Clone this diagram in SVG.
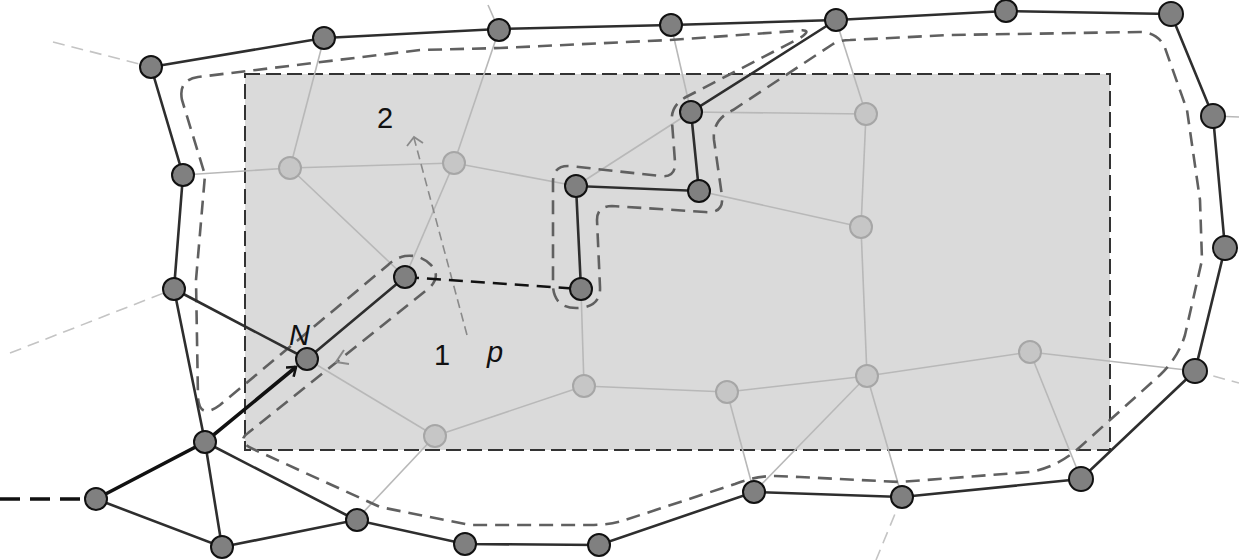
<svg xmlns="http://www.w3.org/2000/svg" width="1239" height="560" viewBox="0 0 1239 560">
<defs>
<style>
.lt{stroke:#b8b8b8;stroke-width:1.6;fill:none}
.ltd{stroke:#c4c4c4;stroke-width:1.6;fill:none;stroke-dasharray:12 7}
.dk{stroke:#2e2e2e;stroke-width:2.6;fill:none;stroke-linecap:round}
.thick{stroke:#111;stroke-width:3.6;fill:none}
.dn{fill:#808080;stroke:#111;stroke-width:2}
.ln{fill:#c6c6c6;stroke:#a6a6a6;stroke-width:2}
.txt{font-family:"Liberation Sans",Arial,sans-serif;font-size:29px;fill:#111}
</style>
<marker id="chev" viewBox="-10 -7 12 14" markerWidth="12" markerHeight="14" refX="0" refY="0" orient="auto" markerUnits="userSpaceOnUse">
<path d="M -8 -6 L 0 0 L -8 6" fill="none" stroke="#111" stroke-width="2.6"/>
</marker>
</defs>
<rect x="0" y="0" width="1239" height="560" fill="#fff"/>
<rect id="region" x="245" y="74" width="865" height="376" fill="#dadada" stroke="#333" stroke-width="2" stroke-dasharray="15 6"/>

<g id="connectors">
<g class="lt">
<line x1="183" y1="175" x2="290" y2="168"/>
<line x1="324" y1="38" x2="290" y2="168"/>
<line x1="290" y1="168" x2="454" y2="163"/>
<line x1="290" y1="168" x2="405" y2="277"/>
<line x1="499" y1="30" x2="454" y2="163"/>
<line x1="499" y1="30" x2="488" y2="5"/>
<line x1="454" y1="163" x2="405" y2="277"/>
<line x1="454" y1="163" x2="576" y2="186"/>
<line x1="576" y1="186" x2="691" y2="112"/>
<line x1="671" y1="25" x2="691" y2="112"/>
<line x1="691" y1="112" x2="866" y2="114"/>
<line x1="836" y1="20" x2="866" y2="114"/>
<line x1="866" y1="114" x2="861" y2="227"/>
<line x1="699" y1="191" x2="861" y2="227"/>
<line x1="861" y1="227" x2="867" y2="376"/>
<line x1="581" y1="289" x2="584" y2="386"/>
<line x1="584" y1="386" x2="727" y2="392"/>
<line x1="584" y1="386" x2="435" y2="436"/>
<line x1="727" y1="392" x2="867" y2="376"/>
<line x1="727" y1="392" x2="754" y2="492"/>
<line x1="867" y1="376" x2="1030" y2="352"/>
<line x1="867" y1="376" x2="902" y2="497"/>
<line x1="867" y1="376" x2="754" y2="492"/>
<line x1="1030" y1="352" x2="1081" y2="479"/>
<line x1="1030" y1="352" x2="1195" y2="371"/>
<line x1="307" y1="359" x2="435" y2="436"/>
<line x1="435" y1="436" x2="356" y2="520"/>
<line x1="1213" y1="116" x2="1239" y2="117"/>
</g>
<g class="ltd">
<line x1="53" y1="42" x2="151" y2="67"/>
<line x1="10" y1="353" x2="174" y2="289"/>
<line x1="1195" y1="371" x2="1239" y2="383"/>
<line x1="902" y1="497" x2="876" y2="560"/>
</g>

<line x1="467" y1="335" x2="414" y2="138" stroke="#8a8a8a" stroke-width="1.6" stroke-dasharray="9 5" fill="none"/>
<path d="M 407 146 L 414 137 L 423 143" fill="none" stroke="#8a8a8a" stroke-width="1.8"/>

<path d="M 182 100 Q 178 80 198 77 L 420 50 L 500 48 L 670 40 L 795 31 Q 815 28 800 38 L 688 96 Q 670 105 672 122 L 675 162 Q 676 178 660 176 L 570 166 Q 553 165 553 182 L 553 287 Q 555 309 578 308 Q 601 307 600 287 L 597 220 Q 597 206 612 206 L 705 212 Q 724 214 722 196 L 714 140 Q 712 120 733 110 L 833 44 Q 840 40 850 40 L 950 35 L 1140 32 Q 1158 32 1165 48 L 1187 110 L 1200 200 L 1202 260 L 1185 335 Q 1178 358 1160 375 L 1080 447 Q 1058 467 1030 472 L 900 482 L 800 477 L 775 476 Q 755 476 735 484 L 625 520 Q 610 525 590 525 L 470 525 L 380 507 L 253 449 Q 236 441 248 433 L 428 289 Q 442 277 431 265 Q 420 254 405 256 Q 395 258 388 265 L 220 405 Q 200 420 198 398 L 196 280 L 205 175 Z" fill="none" stroke="#606060" stroke-width="2.6" stroke-dasharray="14 8"/>
<path d="M 344 350 L 336 362 L 349 364" fill="none" stroke="#8a8a8a" stroke-width="2"/>

<polyline class="dk" points="151,67 324,38 499,29 671,25 836,20 1006,11 1171,14 1213,116 1225,248 1195,371 1081,479 902,497 754,492 599,545 465,544 356,520 222,547 96,499"/>
<polyline class="dk" points="205,442 174,289 183,175 151,67"/>
<line class="dk" x1="205" y1="442" x2="222" y2="547"/>
<line class="dk" x1="205" y1="442" x2="356" y2="520"/>
<line class="dk" x1="174" y1="289" x2="307" y2="359"/>
<line class="dk" x1="307" y1="359" x2="405" y2="277"/>
<polyline class="dk" points="836,20 691,112 699,191 576,186 581,289"/>
<line x1="405" y1="277" x2="581" y2="289" stroke="#111" stroke-width="2.6" stroke-dasharray="14 8"/>
<line x1="0" y1="499" x2="96" y2="499" stroke="#111" stroke-width="3.6" stroke-dasharray="20 10"/>
<polyline class="thick" points="96,499 205,442 296,367" marker-end="url(#chev)"/>
</g>

<g id="n-A1"><circle class="dn" cx="151" cy="67" r="11"/></g>
<g id="n-A2"><circle class="dn" cx="324" cy="38" r="11"/></g>
<g id="n-A3"><circle class="dn" cx="499" cy="30" r="11"/></g>
<g id="n-A4"><circle class="dn" cx="671" cy="25" r="11"/></g>
<g id="n-A5"><circle class="dn" cx="836" cy="20" r="11"/></g>
<g id="n-A6"><circle class="dn" cx="1006" cy="11" r="11"/></g>
<g id="n-A7"><circle class="dn" cx="1171" cy="14" r="12"/></g>
<g id="n-A8"><circle class="dn" cx="1213" cy="116" r="12"/></g>
<g id="n-A9"><circle class="dn" cx="1225" cy="248" r="12"/></g>
<g id="n-A10"><circle class="dn" cx="1195" cy="371" r="12"/></g>
<g id="n-A11"><circle class="dn" cx="1081" cy="479" r="12"/></g>
<g id="n-A12"><circle class="dn" cx="902" cy="497" r="11"/></g>
<g id="n-A13"><circle class="dn" cx="754" cy="492" r="11"/></g>
<g id="n-A14"><circle class="dn" cx="599" cy="545" r="11"/></g>
<g id="n-A15"><circle class="dn" cx="465" cy="544" r="11"/></g>
<g id="n-A16"><circle class="dn" cx="357" cy="520" r="11"/></g>
<g id="n-A17"><circle class="dn" cx="222" cy="547" r="11"/></g>
<g id="n-A18"><circle class="dn" cx="96" cy="499" r="11"/></g>
<g id="n-A19"><circle class="dn" cx="205" cy="442" r="11"/></g>
<g id="n-A20"><circle class="dn" cx="174" cy="289" r="11"/></g>
<g id="n-A21"><circle class="dn" cx="183" cy="175" r="11"/></g>
<g id="n-N"><circle class="dn" cx="307" cy="359" r="11"/></g>
<g id="n-B1"><circle class="dn" cx="405" cy="277" r="11"/></g>
<g id="n-C1"><circle class="dn" cx="581" cy="289" r="11"/></g>
<g id="n-C2"><circle class="dn" cx="576" cy="186" r="11"/></g>
<g id="n-C3"><circle class="dn" cx="699" cy="191" r="11"/></g>
<g id="n-C4"><circle class="dn" cx="691" cy="112" r="11"/></g>
<g id="n-L1"><circle class="ln" cx="290" cy="168" r="11"/></g>
<g id="n-L2"><circle class="ln" cx="454" cy="163" r="11"/></g>
<g id="n-L3"><circle class="ln" cx="866" cy="114" r="11"/></g>
<g id="n-L4"><circle class="ln" cx="861" cy="227" r="11"/></g>
<g id="n-L5"><circle class="ln" cx="584" cy="386" r="11"/></g>
<g id="n-L6"><circle class="ln" cx="727" cy="392" r="11"/></g>
<g id="n-L7"><circle class="ln" cx="867" cy="376" r="11"/></g>
<g id="n-L8"><circle class="ln" cx="1030" cy="352" r="11"/></g>
<g id="n-L9"><circle class="ln" cx="435" cy="436" r="11"/></g>

<g id="labels">
<text class="txt" x="289" y="345" font-style="italic">N</text>
<text class="txt" x="377" y="128">2</text>
<text class="txt" x="434" y="365">1</text>
<text class="txt" x="487" y="362" font-style="italic">p</text>
</g>
</svg>
